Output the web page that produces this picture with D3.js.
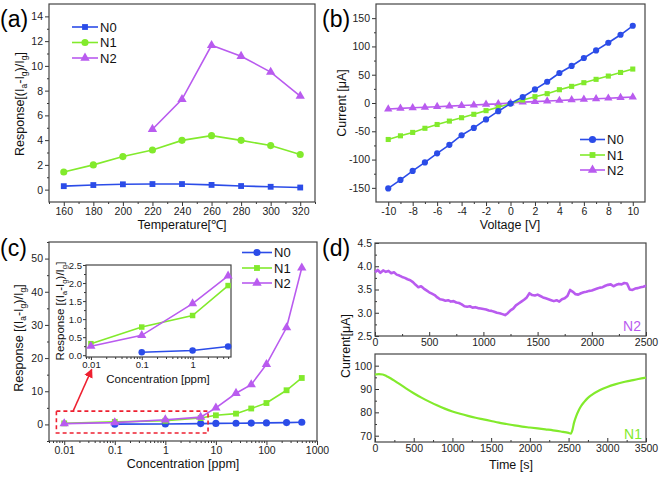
<!DOCTYPE html>
<html><head><meta charset="utf-8">
<script src="https://cdn.jsdelivr.net/npm/d3@7"></script>
<style>body{margin:0;background:#fff}</style>
</head><body>
<svg id="chart" width="661" height="480" xmlns="http://www.w3.org/2000/svg"></svg>
<script>
// ---------------- DATA ----------------
// (a) response vs temperature
const tempX   = [160,180,200,220,240,260,280,300,320];
const tempN0  = [0.28,0.37,0.43,0.45,0.45,0.38,0.29,0.23,0.17];
const tempN1  = [1.42,2.00,2.67,3.20,3.98,4.36,3.98,3.56,2.84];
const tempN2X = [220,240,260,280,300,320];
const tempN2  = [4.88,7.30,11.66,10.78,9.50,7.56];
const tempTicks = [160,180,200,220,240,260,280,300,320];
const respTicks = [0,2,4,6,8,10,12,14];

// (b) I-V curves
const voltX = [-10,-9,-8,-7,-6,-5,-4,-3,-2,-1,0,1,2,3,4,5,6,7,8,9,10];
const ivN0  = [-151,-136,-120,-105,-89,-74,-57,-44,-29,-14.5,-1,10.6,24,37.6,53,65.5,79.5,93,106.5,120.6,136.5];
const ivN1  = [-64.5,-58,-52,-44.7,-38,-32,-26,-20,-13.5,-7.6,-1,5.3,11.2,16.5,23.5,29.4,35.9,41.8,47.6,54,60];
const ivN2  = [-10.6,-9.5,-8.5,-7.5,-6.5,-5.5,-4.5,-3.5,-2.5,-1.5,0,1.5,2.5,3.5,4.5,5.5,6.5,7.5,8.5,9.5,10.6];
const voltTicks = [-10,-8,-6,-4,-2,0,2,4,6,8,10];
const currTicks = [-150,-100,-50,0,50,100,150];

// (c) response vs concentration
const concX   = [0.01,0.1,1,5,10,25,50,100,250,500];
const concN0X = [0.1,1,5,10,25,50,100,250,500];
const concN0  = [0.08,0.13,0.24,0.30,0.35,0.40,0.45,0.55,0.65];
const concN1  = [0.32,0.78,1.10,1.93,2.75,3.25,4.80,6.45,10.30,14.00];
const concN2  = [0.25,0.55,1.43,2.20,5.00,9.40,12.00,18.10,29.20,47.20];
const concTicks = [0.01,0.1,1,10,100,1000];
const concTickLabels = ["0.01","0.1","1","10","100","1000"];
const concRespTicks = [0,10,20,30,40,50];
const insetTicks = [0.01,0.1,1];
const insetTickLabels = ["0.01","0.1","1"];
const insetRespTicks = [0,0.5,1.0,1.5,2.0,2.5];
// zoom box and arrow (data coordinates of panel c)
const zoomBox = {x0:0.007, x1:7, y0:-2.6, y1:4.0};
const zoomArrow = {from:[0.015,4.0], to:[0.035,16.6]};

// (d) transient currents
const n2Trace = [
 [0,3.87],[25,3.92],[50,3.86],[75,3.91],[100,3.88],[125,3.90],[150,3.85],[175,3.87],[200,3.82],[225,3.80],
 [250,3.77],[275,3.75],[300,3.72],[325,3.70],[350,3.66],[375,3.60],[400,3.55],[425,3.57],[450,3.52],[475,3.48],
 [500,3.44],[525,3.41],[550,3.38],[575,3.33],[600,3.29],[625,3.28],[650,3.26],[675,3.27],[700,3.24],[725,3.25],
 [750,3.22],[775,3.21],[800,3.18],[825,3.14],[850,3.13],[875,3.14],[900,3.11],[925,3.12],[950,3.10],[975,3.09],
 [1000,3.08],[1025,3.07],[1050,3.05],[1075,3.04],[1100,3.02],[1125,3.00],[1150,2.99],[1175,2.97],[1200,2.95],[1225,2.99],
 [1250,3.05],[1275,3.09],[1300,3.16],[1325,3.20],[1350,3.24],[1375,3.28],[1400,3.33],[1425,3.42],[1450,3.38],[1475,3.37],
 [1500,3.39],[1525,3.36],[1550,3.33],[1575,3.31],[1600,3.29],[1625,3.27],[1650,3.25],[1675,3.27],[1700,3.24],[1725,3.29],
 [1750,3.31],[1775,3.36],[1800,3.49],[1825,3.45],[1850,3.40],[1875,3.39],[1900,3.42],[1925,3.44],[1950,3.45],[1975,3.47],
 [2000,3.48],[2025,3.50],[2050,3.52],[2075,3.54],[2100,3.55],[2125,3.58],[2150,3.60],[2175,3.61],[2200,3.57],[2225,3.60],
 [2250,3.62],[2275,3.61],[2300,3.64],[2325,3.63],[2350,3.50],[2375,3.49],[2400,3.52],[2425,3.53],[2450,3.55],[2475,3.56],[2500,3.58]
];
const n1Trace = [
 [0,96.2],[50,96.4],[100,96.2],[150,95.5],[200,94.6],[250,93.6],[300,92.5],[400,90.3],[500,88.2],[600,86.3],
 [700,84.6],[800,83.0],[900,81.6],[1000,80.4],[1100,79.4],[1200,78.5],[1300,77.7],[1400,77.0],[1500,76.3],[1600,75.6],
 [1700,75.0],[1800,74.4],[1900,73.9],[2000,73.5],[2100,73.1],[2200,72.7],[2300,72.3],[2400,71.8],[2500,71.2],[2530,70.9],
 [2550,72.5],[2570,75.5],[2600,78.5],[2630,80.8],[2660,82.6],[2700,84.4],[2750,86.2],[2800,87.5],[2900,89.5],[3000,90.9],
 [3100,92.0],[3200,92.9],[3300,93.6],[3400,94.3],[3500,94.9]
];
const d2YTicks = [2.5,3.0,3.5,4.0,4.5];
const d2XTicks = [0,500,1000,1500,2000,2500];
const d1YTicks = [70,80,90,100];
const d1XTicks = [0,500,1000,1500,2000,2500,3000,3500];
const seriesNames = ["N0","N1","N2"];

// ---------------- DRAWING ----------------
const F = "'Liberation Sans', Arial, Helvetica, sans-serif";
const BLUE = "#2b4ce8", GREEN = "#82ea2c", PURPLE = "#b95bef", RED = "#ee2030";
const svg = d3.select("#chart");
svg.append("rect").attr("width",661).attr("height",480).attr("fill","#fff");

function tidy(sel, fs){
  sel.attr("font-family", F).attr("font-size", fs);
  sel.select(".domain").remove();
  sel.selectAll(".tick line").attr("stroke","#333").attr("stroke-width",1);
  sel.selectAll(".tick text").attr("fill","#222");
}
function drawAxes(x, y, o){
  const [xa, xb] = x.range(), [ya, yb] = y.range();
  const big = o.ts || 4;
  const ts = o.inward ? -big : big, tm = o.inward ? -2 : 2, fs = o.fs || 10.5;
  svg.append("rect").attr("x",xa).attr("y",yb).attr("width",xb-xa).attr("height",ya-yb)
    .attr("fill", o.bg || "none");
  const gx = svg.append("g").attr("transform",`translate(0,${ya})`)
    .call(d3.axisBottom(x).tickValues(o.xt).tickSize(ts).tickPadding(o.xpad||2)
      .tickFormat((d,i)=> o.xl ? o.xl[i] : (o.xf ? o.xf(d) : d)));
  tidy(gx, fs);
  if (o.xm) tidy(svg.append("g").attr("transform",`translate(0,${ya})`)
      .call(d3.axisBottom(x).tickValues(o.xm).tickSize(tm).tickFormat("")), fs);
  const gy = svg.append("g").attr("transform",`translate(${xa},0)`)
    .call(d3.axisLeft(y).tickValues(o.yt).tickSize(ts).tickPadding(o.ypad||2)
      .tickFormat(d=> o.yf ? o.yf(d) : d));
  tidy(gy, fs);
  if (o.ym) tidy(svg.append("g").attr("transform",`translate(${xa},0)`)
      .call(d3.axisLeft(y).tickValues(o.ym).tickSize(tm).tickFormat("")), fs);
  svg.append("rect").attr("x",xa).attr("y",yb).attr("width",xb-xa).attr("height",ya-yb)
    .attr("fill","none").attr("stroke","#444").attr("stroke-width",1.2);
}
function series(xs, ys, x, y, color, sym, size, lw){
  const pts = xs.map((d,i)=>[x(d), y(ys[i])]);
  svg.append("path").attr("d", d3.line()(pts)).attr("fill","none")
    .attr("stroke",color).attr("stroke-width",lw||1.6);
  svg.append("g").selectAll("path").data(pts).join("path")
    .attr("transform", d=>`translate(${d[0]},${d[1]})`)
    .attr("d", d3.symbol(sym, size)).attr("fill", color);
}
function legend(items, x0, x1, ys, fs){
  items.forEach((it,i)=>{
    svg.append("line").attr("x1",x0).attr("x2",x1).attr("y1",ys[i]).attr("y2",ys[i])
      .attr("stroke",it.c).attr("stroke-width",1.6);
    svg.append("path").attr("transform",`translate(${(x0+x1)/2},${ys[i]})`)
      .attr("d", d3.symbol(it.s, it.z)).attr("fill", it.c);
    svg.append("text").attr("x",x1+2).attr("y",ys[i]).attr("dy","0.36em")
      .attr("font-family",F).attr("font-size",fs||13).attr("fill","#111").text(it.n);
  });
}
function text(x, y, s, o={}){
  return svg.append("text").attr("x",x).attr("y",y).attr("font-family",F)
    .attr("font-size",o.fs||12.5).attr("fill",o.fill||"#111")
    .attr("text-anchor",o.anchor||"middle").attr("transform",o.rot?`rotate(-90,${x},${y})`:null).text(s);
}
function respLabel(x, y, prefix, fs){
  const t = svg.append("text").attr("x",x).attr("y",y).attr("font-family",F).attr("font-size",fs)
    .attr("fill","#111").attr("text-anchor","middle").attr("transform",`rotate(-90,${x},${y})`);
  const sub = s => t.append("tspan").attr("font-size",fs*0.68).attr("dy",fs*0.25).text(s);
  const norm = (s, back) => t.append("tspan").attr("dy", back? -fs*0.25 : 0).text(s);
  norm(prefix+"(I"); sub("a"); norm("-I", true); sub("g"); norm(")/I", true); sub("g"); norm("]", true);
}
const panelLabel = (x,y,s)=> text(x,y,s,{fs:23, anchor:"start", fill:"#000"});
const MK = {sq:[d3.symbolSquare,34], ci:[d3.symbolCircle,40], tr:[d3.symbolTriangle,38]};

// ---------- (a) ----------
{
  const x = d3.scaleLinear().domain([150,330]).range([49,315]);
  const y = d3.scaleLinear().domain([-1,15]).range([202,4]);
  drawAxes(x, y, {xt:tempTicks, xm:[150,170,190,210,230,250,270,290,310,330], yt:respTicks, ym:[1,3,5,7,9,11,13]});
  series(tempX, tempN0, x, y, BLUE, ...MK.sq);
  series(tempX, tempN1, x, y, GREEN, ...MK.ci);
  series(tempN2X, tempN2, x, y, PURPLE, ...MK.tr);
  legend([{n:seriesNames[0],c:BLUE,s:MK.sq[0],z:MK.sq[1]},{n:seriesNames[1],c:GREEN,s:MK.ci[0],z:MK.ci[1]},{n:seriesNames[2],c:PURPLE,s:MK.tr[0],z:MK.tr[1]}],
    72, 98, [27,42.5,58]);
  text(182, 229, "Temperature[℃]");
  respLabel(24, 104, "Response[", 12.5);
  panelLabel(0, 27, "(a)");
}
// ---------- (b) ----------
{
  const x = d3.scaleLinear().domain([-11,11]).range([376,645]);
  const y = d3.scaleLinear().domain([-175,175]).range([202,4]);
  drawAxes(x, y, {xt:voltTicks, xm:[-9,-7,-5,-3,-1,1,3,5,7,9], yt:currTicks, ym:[-125,-75,-25,25,75,125]});
  const s = [d3.symbolCircle,30],[q,t]=[[d3.symbolSquare,26],[d3.symbolTriangle,30]];
  series(voltX, ivN2, x, y, PURPLE, ...t);
  series(voltX, ivN1, x, y, GREEN, ...q);
  series(voltX, ivN0, x, y, BLUE, ...s);
  legend([{n:seriesNames[0],c:BLUE,s:s[0],z:40},{n:seriesNames[1],c:GREEN,s:q[0],z:34},{n:seriesNames[2],c:PURPLE,s:t[0],z:38}],
    580, 605, [139.5,155,170]);
  text(510, 229, "Voltage [V]");
  text(346, 103, "Current [μA]", {rot:true});
  panelLabel(322, 27, "(b)");
}
// ---------- (c) ----------
{
  const x = d3.scaleLog().domain([0.005,1000]).range([49,317]);
  const y = d3.scaleLinear().domain([-5,55]).range([441,242]);
  const minor = [];
  [0.001,0.01,0.1,1,10,100].forEach(dec=>{ for(let k=2;k<=9;k++){ const v=dec*k; if(v>=0.005 && v<=1000) minor.push(v);} });
  drawAxes(x, y, {xt:concTicks, xl:concTickLabels, xm:minor, yt:concRespTicks, ym:[-5,5,15,25,35,45,55]});
  series(concN0X, concN0, x, y, BLUE, ...MK.ci);
  series(concX, concN1, x, y, GREEN, ...MK.sq);
  series(concX, concN2, x, y, PURPLE, ...MK.tr);
  // zoom box
  svg.append("rect").attr("x",x(zoomBox.x0)).attr("y",y(zoomBox.y1))
    .attr("width",x(zoomBox.x1)-x(zoomBox.x0)).attr("height",y(zoomBox.y0)-y(zoomBox.y1))
    .attr("fill","none").attr("stroke",RED).attr("stroke-width",1.6).attr("stroke-dasharray","4,3");
  // arrow
  const defs = svg.append("defs");
  defs.append("marker").attr("id","ah").attr("viewBox","0 0 10 10").attr("refX",9).attr("refY",5)
    .attr("markerWidth",6).attr("markerHeight",6).attr("orient","auto")
    .append("path").attr("d","M0,0 L10,5 L0,10 z").attr("fill",RED);
  svg.append("line").attr("x1",x(zoomArrow.from[0])).attr("y1",y(zoomArrow.from[1]))
    .attr("x2",x(zoomArrow.to[0])).attr("y2",y(zoomArrow.to[1]))
    .attr("stroke",RED).attr("stroke-width",1.5).attr("marker-end","url(#ah)");
  legend([{n:seriesNames[0],c:BLUE,s:MK.ci[0],z:40},{n:seriesNames[1],c:GREEN,s:MK.sq[0],z:34},{n:seriesNames[2],c:PURPLE,s:MK.tr[0],z:38}],
    242, 272, [252.5,268,283]);
  text(183, 468, "Concentration [ppm]");
  respLabel(23, 338, "Response [", 12.5);
  panelLabel(0, 256, "(c)");

  // inset
  const xi = d3.scaleLog().domain([0.008,5.7]).range([86,231]);
  const yi = d3.scaleLinear().domain([-0.05,2.5]).range([357,265]);
  const iminor=[]; [0.001,0.01,0.1,1].forEach(dec=>{ for(let k=2;k<=9;k++){ const v=dec*k; if(v>=0.008 && v<=5.7) iminor.push(v);} });
  drawAxes(xi, yi, {xt:insetTicks, xl:insetTickLabels, xm:iminor, yt:insetRespTicks, ym:[0.25,0.75,1.25,1.75,2.25],
    yf:d3.format(".1f"), fs:9.5, bg:"#fff", xpad:1, ypad:1, ts:3});
  const inN0 = concN0X.filter(v=>v<=5), inAll = concX.filter(v=>v<=5);
  series(inN0, concN0.slice(0,inN0.length), xi, yi, BLUE, d3.symbolCircle, 34);
  series(inAll, concN1.slice(0,inAll.length), xi, yi, GREEN, d3.symbolSquare, 30);
  series(inAll, concN2.slice(0,inAll.length), xi, yi, PURPLE, d3.symbolTriangle, 36);
  text(158, 383, "Concentration [ppm]", {fs:11.5});
  respLabel(64, 311, "Response [", 11.5);
}
// ---------- (d) ----------
{
  const xt = d3.scaleLinear().domain([0,2500]).range([375,646]);
  const yt = d3.scaleLinear().domain([2.5,4.5]).range([336,243]);
  drawAxes(xt, yt, {xt:d2XTicks, xm:[250,750,1250,1750,2250], yt:d2YTicks, ym:[2.75,3.25,3.75,4.25],
    yf:d3.format(".1f"), inward:true, ypad:3, xpad:3});
  svg.append("path").attr("d", d3.line().x(d=>xt(d[0])).y(d=>yt(d[1]))(n2Trace))
    .attr("fill","none").attr("stroke",PURPLE).attr("stroke-width",2.6).attr("stroke-linejoin","round");
  text(641, 331, seriesNames[2], {fs:14, anchor:"end", fill:PURPLE});

  const xb = d3.scaleLinear().domain([0,3500]).range([375,646]);
  const yb = d3.scaleLinear().domain([67.3,105]).range([442,354]);
  drawAxes(xb, yb, {xt:d1XTicks, xm:[250,750,1250,1750,2250,2750,3250], yt:d1YTicks, ym:[75,85,95],
    inward:true, ypad:3, xpad:3});
  svg.append("path").attr("d", d3.line().curve(d3.curveMonotoneX).x(d=>xb(d[0])).y(d=>yb(d[1]))(n1Trace))
    .attr("fill","none").attr("stroke",GREEN).attr("stroke-width",2.2);
  text(642, 439, seriesNames[1], {fs:14, anchor:"end", fill:GREEN});

  text(511, 469, "Time [s]");
  text(350, 346, "Current[μA]", {rot:true});
  panelLabel(322, 256, "(d)");
}
</script>
</body></html>
